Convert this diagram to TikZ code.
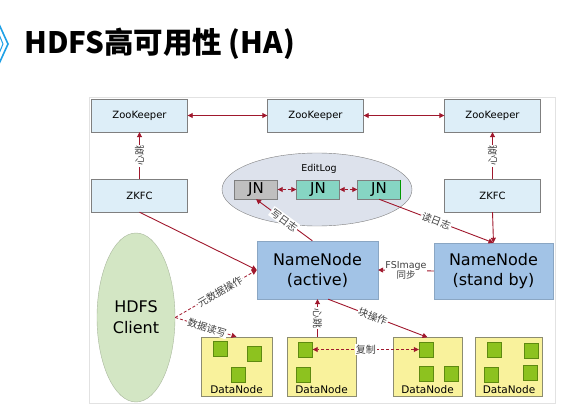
\documentclass[tikz,border=0pt]{standalone}
\usepackage{fontspec}
\setmainfont{Noto Sans CJK SC}
\newfontfamily\lat{DejaVu Sans}
\usetikzlibrary{arrows.meta,shapes.geometric,calc}
\definecolor{zkfill}{HTML}{DDEEF8}
\definecolor{boxline}{HTML}{7F7F7F}
\definecolor{elfill}{HTML}{DDE2EC}
\definecolor{jngray}{HTML}{BFBFBF}
\definecolor{jnteal}{HTML}{86D5C3}
\definecolor{nnfill}{HTML}{A2C3E6}
\definecolor{clfill}{HTML}{D3E6C4}
\definecolor{dnfill}{HTML}{F9F29C}
\definecolor{dnline}{HTML}{8C8C70}
\definecolor{sqfill}{HTML}{8DC21F}
\definecolor{sqline}{HTML}{5E8A10}
\definecolor{arrc}{HTML}{A0182D}
\definecolor{lbltext}{HTML}{404040}
\definecolor{titleblue}{HTML}{1EA0E6}
\definecolor{framec}{HTML}{E2E2E2}
\begin{document}
\begin{tikzpicture}[x=1pt,y=-1pt,
  zkbox/.style={draw=boxline, fill=zkfill, minimum width=96pt, minimum height=33pt, inner sep=0pt, font=\lat\fontsize{10}{11}\selectfont},
  jnbox/.style={draw=boxline, minimum width=43pt, minimum height=19pt, inner sep=0pt, font=\lat\fontsize{15}{16}\selectfont},
  nnbox/.style={fill=nnfill, draw=nnfill!85!black, align=center, inner sep=0pt, font=\lat\fontsize{16}{20}\selectfont},
  dnbox/.style={draw=dnline, fill=dnfill, minimum height=59pt, inner sep=0pt},
  sq/.style={draw=sqline, fill=sqfill, minimum width=14pt, minimum height=15pt, inner sep=0pt},
  dntext/.style={font=\lat\fontsize{10.5}{11}\selectfont, inner sep=0pt},
  arr/.style={draw=arrc, line width=0.9pt, -{Triangle[width=5pt,length=5pt]}},
  arrtwo/.style={draw=arrc, line width=0.9pt, {Triangle[width=5pt,length=5pt]}-{Triangle[width=5pt,length=5pt]}},
  darr/.style={draw=arrc, line width=0.8pt, densely dashed, -{Triangle[width=5pt,length=5pt]}},
  darrtwo/.style={draw=arrc, line width=0.8pt, densely dashed, {Triangle[width=5pt,length=5pt]}-{Triangle[width=5pt,length=5pt]}},
  lbl/.style={fill=white, inner sep=1pt, text=lbltext, font=\fontsize{10}{11}\selectfont}
]
\useasboundingbox (0,0) rectangle (579,404);
\fill[white] (0,0) rectangle (579,404);

% title
\draw[titleblue, line width=1.6pt] (-2,22) -- (8,44) -- (-2,66);
\draw[titleblue, line width=1pt] (-2,32) -- (3,44) -- (-2,56);
\node[anchor=west, inner sep=0pt, font=\fontsize{29.5}{31}\selectfont\bfseries] (title) at (24,44) {HDFS高可用性 (HA)};

% frame
\draw[framec, line width=0.8pt] (89,97) rectangle (555,403);

% ZooKeeper row
\node[zkbox] (zk1) at (139.5,115.5) {ZooKeeper};
\node[zkbox] (zk2) at (315.5,115.5) {ZooKeeper};
\node[zkbox] (zk3) at (492.5,115.5) {ZooKeeper};
\node[zkbox] (zkfc1) at (139.5,195.5) {ZKFC};
\node[zkbox] (zkfc2) at (492.5,195.5) {ZKFC};

% EditLog ellipse
\node[ellipse, draw=boxline, fill=elfill, minimum width=190pt, minimum height=73pt, inner sep=0pt] (el) at (317,189.5) {};
\node[inner sep=0pt, font=\lat\fontsize{9.5}{10}\selectfont] (eltext) at (319,168.5) {EditLog};
\node[jnbox, fill=jngray] (jn1) at (256,189.5) {JN};
\node[jnbox, fill=jnteal] (jn2) at (318,189.5) {JN};
\node[jnbox, fill=jnteal] (jn3) at (379,189.5) {JN};
\draw[green!60!black, line width=1.4pt] (jn3.north east) -- (jn3.south east);

% NameNodes
\node[nnbox, minimum width=121pt, minimum height=58pt] (active) at (317.5,270) {NameNode\\(active)};
\node[nnbox, minimum width=119pt, minimum height=56pt] (standby) at (493.5,271) {NameNode\\(stand by)};

% Client
\node[ellipse, draw=clfill!80!black, fill=clfill, minimum width=78pt, minimum height=169pt, inner sep=0pt, align=center, font=\lat\fontsize{16}{21}\selectfont] (client) at (136,317.5) {HDFS\\Client};

% DataNodes
\node[dnbox, minimum width=71pt] (dn1) at (236.5,366.5) {};
\node[dnbox, minimum width=69pt] (dn2) at (321.5,366.5) {};
\node[dnbox, minimum width=69pt] (dn3) at (427.5,367) {};
\node[dnbox, minimum width=67pt] (dn4) at (509,367) {};
\node[dntext] (dn1t) at (236.5,389.5) {DataNode};
\node[dntext] (dn2t) at (321.5,389.5) {DataNode};
\node[dntext] (dn3t) at (427.5,389.5) {DataNode};
\node[dntext] (dn4t) at (509,389.5) {DataNode};
\node[sq] (s11) at (220,349) {};
\node[sq] (s12) at (254.5,353.5) {};
\node[sq] (s13) at (238.5,375) {};
\node[sq] (s21) at (305.5,349.5) {};
\node[sq] (s22) at (303,375) {};
\node[sq] (s31) at (426,349.5) {};
\node[sq] (s32) at (426,373.5) {};
\node[sq] (s33) at (451,373.5) {};
\node[sq] (s41) at (494,349.5) {};
\node[sq] (s42) at (531.5,351) {};
\node[sq] (s43) at (491.5,375) {};
\node[sq] (s44) at (530,373) {};

% connectors
\draw[arrtwo] (zk1.east) -- (zk2.west);
\draw[arrtwo] (zk2.east) -- (zk3.west);
\draw[arr] (zkfc1.north) -- node[lbl, midway, rotate=90] {心跳} (zk1.south);
\draw[arr] (zkfc2.north) -- node[lbl, midway, rotate=90] {心跳} (zk3.south);
\draw[arr] (zkfc1.south) -- (active.west);
\draw[arr] (zkfc2.south) -- (standby.north);
\draw[darrtwo] (jn1.east) -- (jn2.west);
\draw[darrtwo] (jn2.east) -- (jn3.west);
\draw[arr] (active.100) -- node[lbl, pos=0.5, sloped] {写日志} (jn1.south);
\draw[arr] (jn3.south) -- node[lbl, midway, sloped] {读日志} (standby.north);
\draw[arr] (standby.west) -- node[lbl, midway, align=center, inner sep=0.5pt, font=\fontsize{9.5}{10}\selectfont] {{\lat FSImage}\\同步} (active.east);
\draw[darr] (client.east) -- node[lbl, pos=0.55, sloped] {元数据操作} (active.west);
\draw[darr] (client.east) -- node[lbl, pos=0.52, sloped] {数据读写} (dn1.north);
\draw[arr] (active.south |- dn2.north) -- node[lbl, midway, rotate=-90] {心跳} (active.south);
\draw[arr] (active.-70) -- node[lbl, pos=0.45, sloped] {块操作} (dn3.north);
\draw[darrtwo] (s31.west) -- node[lbl, midway] {复制} (s21.east);
\end{tikzpicture}
\end{document}
